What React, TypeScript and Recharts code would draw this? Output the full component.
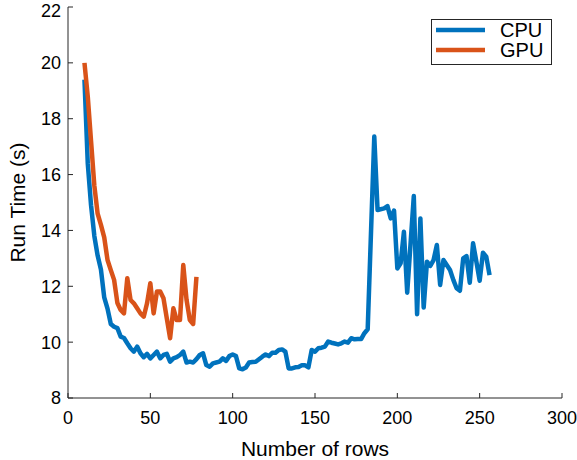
import { LineChart, Line, XAxis, YAxis, Legend } from 'recharts';

const cpuRows = [
  10, 12, 14, 16, 18, 20, 22, 24, 26, 28, 30, 32, 34, 36, 38, 40, 42, 44, 46, 48,
  50, 52, 54, 56, 58, 60, 62, 64, 66, 68, 70, 72, 74, 76, 78, 80, 82, 84, 86, 88,
  90, 92, 94, 96, 98, 100, 102, 104, 106, 108, 110, 112, 114, 116, 118, 120, 122, 124, 126, 128,
  130, 132, 134, 136, 138, 140, 142, 144, 146, 148, 150, 152, 154, 156, 158, 160, 162, 164, 166, 168,
  170, 172, 174, 176, 178, 180, 182, 186, 188, 192, 194, 196, 198, 200, 202, 204, 206, 210, 212, 214,
  216, 218, 220, 222, 224, 226, 228, 232, 234, 236, 238, 240, 242, 244, 246, 248, 250, 252, 254, 256,
];
const cpuTime = [
  19.4, 16.4, 14.9, 13.8, 13.1, 12.6, 11.6, 11.2, 10.65, 10.55, 10.5, 10.2, 10.15, 9.96, 9.78, 9.66, 9.84, 9.6, 9.46, 9.58,
  9.42, 9.54, 9.66, 9.42, 9.54, 9.58, 9.3, 9.42, 9.46, 9.54, 9.66, 9.27, 9.3, 9.27, 9.39, 9.54, 9.6, 9.18, 9.12, 9.24,
  9.27, 9.3, 9.42, 9.33, 9.5, 9.56, 9.5, 9.06, 9.03, 9.09, 9.27, 9.29, 9.3, 9.39, 9.48, 9.56, 9.5, 9.62, 9.62, 9.72,
  9.74, 9.66, 9.06, 9.06, 9.1, 9.11, 9.17, 9.17, 9.1, 9.72, 9.66, 9.78, 9.8, 9.84, 10.02, 9.98, 9.95, 9.92, 9.96, 10.02,
  9.98, 10.14, 10.1, 10.11, 10.11, 10.32, 10.46, 17.36, 14.73, 14.79, 14.87, 14.43, 14.71, 12.64, 12.82, 13.95, 11.77, 15.23, 11.0, 14.43,
  11.24, 12.88, 12.73, 12.94, 13.48, 12.05, 12.94, 12.58, 12.23, 11.93, 11.84, 13.0, 13.08, 12.13, 13.54, 12.88, 12.2, 13.2, 13.06, 12.4,
];

const gpuRows = [
  10, 12, 14, 16, 18, 20, 22, 24, 26, 28, 30, 32, 34, 36, 38, 40, 42, 44,
  46, 48, 50, 52, 54, 56, 58, 60, 62, 64, 66, 68, 70, 72, 74, 76, 78,
];
const gpuTime = [
  20.0, 18.8, 17.2, 15.6, 14.6, 14.2, 13.75, 12.94, 12.58, 12.23, 11.4, 11.15, 11.03, 12.29, 11.51, 11.39, 11.21, 11.03,
  10.91, 11.39, 12.11, 11.03, 11.81, 11.81, 11.57, 10.85, 10.14, 11.21, 10.79, 10.79, 12.76, 11.51, 10.79, 10.65, 12.34,
];

const xTicks = [0, 50, 100, 150, 200, 250, 300];
const yTicks = [8, 10, 12, 14, 16, 18, 20, 22];

const series = [
  { name: 'CPU', color: '#0072BD' },
  { name: 'GPU', color: '#D95319' },
];

const cpuData = cpuRows.map((r, i) => ({ rows: r, time: cpuTime[i] }));
const gpuData = gpuRows.map((r, i) => ({ rows: r, time: gpuTime[i] }));

const font = '"Liberation Sans", Arial, Helvetica, sans-serif';
const ink = '#262626';

// legend drawn by hand so it sits in a boxed frame at the top right like the original
const LegendBox = () => (
  <svg width={122} height={47} style={{ display: 'block' }}>
    <rect x={0.5} y={0.5} width={120} height={45} fill="#fff" stroke={ink} strokeWidth={1} />
    {series.map((s, i) => (
      <g key={s.name}>
        <line x1={5} x2={54} y1={11 + i * 20} y2={11 + i * 20} stroke={s.color} strokeWidth={4.5} />
        <text x={69} y={18 + i * 20} fontSize={20} fontFamily={font} fill="#000">
          {s.name}
        </text>
      </g>
    ))}
  </svg>
);

export default function App() {
  return (
    <div style={{ position: 'fixed', left: 0, top: 0, background: '#fff' }}>
      <LineChart width={577} height={460} margin={{ top: 7, right: 15, bottom: 0, left: 0 }}>
        <XAxis
          dataKey="rows"
          type="number"
          domain={[0, 300]}
          ticks={xTicks}
          height={62}
          allowDataOverflow
          axisLine={{ stroke: ink }}
          tickLine={{ stroke: ink }}
          tickSize={-5}
          tickMargin={18}
          tick={{ fontSize: 18, fill: '#000', fontFamily: font }}
          label={{ value: 'Number of rows', position: 'insideBottom', offset: 4, fontSize: 21, fill: '#000', fontFamily: font }}
        />
        <YAxis
          type="number"
          domain={[8, 22]}
          ticks={yTicks}
          width={68}
          allowDataOverflow
          axisLine={{ stroke: ink }}
          tickLine={{ stroke: ink }}
          tickSize={-5}
          tickMargin={12}
          tick={{ fontSize: 18, fill: '#000', fontFamily: font }}
          label={{ value: 'Run Time (s)', angle: -90, position: 'insideLeft', offset: 18, fontSize: 21, fill: '#000', fontFamily: font, style: { textAnchor: 'middle' } }}
        />
        <Legend
          layout="horizontal"
          verticalAlign="middle"
          align="center"
          content={() => <LegendBox />}
          wrapperStyle={{ left: 431, top: 19, width: 122, height: 47 }}
        />
        <Line
          data={cpuData}
          dataKey="time"
          name="CPU"
          type="linear"
          stroke={series[0].color}
          strokeWidth={4.5}
          strokeLinejoin="round"
          dot={false}
          isAnimationActive={false}
        />
        <Line
          data={gpuData}
          dataKey="time"
          name="GPU"
          type="linear"
          stroke={series[1].color}
          strokeWidth={4.5}
          strokeLinejoin="round"
          dot={false}
          isAnimationActive={false}
        />
      </LineChart>
    </div>
  );
}
